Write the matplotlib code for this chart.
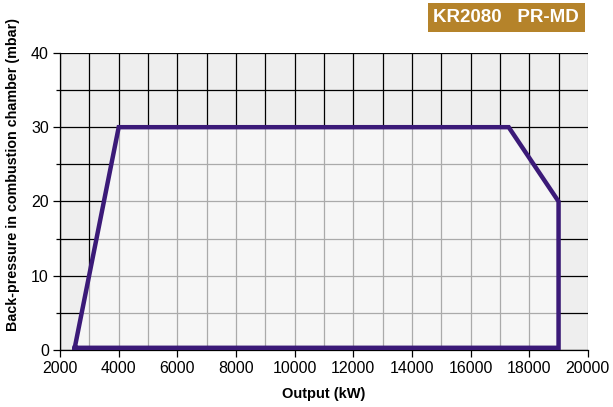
import matplotlib
matplotlib.use("Agg")
import matplotlib.pyplot as plt
from matplotlib.patches import Polygon

plt.rcParams['font.family'] = ['Liberation Sans', 'DejaVu Sans']

# working field of the burner (output kW, back-pressure mbar)
output_kw = [2500, 4000, 17300, 19000, 19000]
pressure_mbar = [0.3, 30, 30, 20, 0.3]

x_ticks = [2000, 4000, 6000, 8000, 10000, 12000, 14000, 16000, 18000, 20000]
y_ticks = [0, 10, 20, 30, 40]
y_minor = [5, 15, 25, 35]
x_grid = list(range(2000, 20001, 1000))
y_grid = [0, 5, 10, 15, 20, 25, 30, 35, 40]

line_color = '#3b1a78'

fig = plt.figure(figsize=(6.13, 4.07), dpi=100)
ax = fig.add_axes([0.098, 0.14, 0.861, 0.73])
ax.set_facecolor('#eeeeee')
ax.set_xlim(2000, 20000)
ax.set_ylim(0, 40)

# black grid outside the field
ax.vlines(x_grid[:-1], 0, 40, color='black', lw=0.9, zorder=1)
ax.vlines(x_grid[-1:], 0, 40, color='#999999', lw=0.9, zorder=1)
ax.hlines(y_grid, 2000, 20000, color='black', lw=0.9, zorder=1)

# field fill with grey grid inside
pts = list(zip(output_kw, pressure_mbar))
field = Polygon(pts, closed=True, facecolor='#f6f6f6', edgecolor='none', zorder=2)
ax.add_patch(field)
vl = ax.vlines(x_grid, 0, 40, color='#aaaaaa', lw=0.9, zorder=3)
hl = ax.hlines(y_grid, 2000, 20000, color='#aaaaaa', lw=0.9, zorder=3)
vl.set_clip_path(field)
hl.set_clip_path(field)

ax.plot(output_kw + [output_kw[0]], pressure_mbar + [pressure_mbar[0]],
        color=line_color, lw=3.2, solid_joinstyle='miter', zorder=4)

ax.set_xticks(x_ticks)
ax.set_yticks(y_ticks)
ax.set_yticks(y_minor, minor=True)
ax.tick_params(direction='out', length=5, width=0.9, labelsize=11.5,
               colors='black', pad=3)
ax.tick_params(axis='y', which='minor', length=3, width=0.9)
for s in ['top', 'right']:
    ax.spines[s].set_visible(False)
ax.spines['left'].set_linewidth(0.9)
ax.spines['bottom'].set_linewidth(0.9)

ax.set_xlabel('Output (kW)', fontsize=10.5, fontweight='bold', labelpad=8)
ax.set_ylabel('Back-pressure in combustion chamber (mbar)', fontsize=10.3,
              fontweight='bold')
ax.yaxis.set_label_coords(-0.075, 0.59)

fig.text(0.826, 0.957, 'KR2080   PR-MD', fontsize=13.5, fontweight='bold',
         color='white', ha='center', va='center',
         bbox=dict(boxstyle='square,pad=0.3', facecolor='#b5832a', edgecolor='none'))

fig.savefig('out.png', dpi=100)
